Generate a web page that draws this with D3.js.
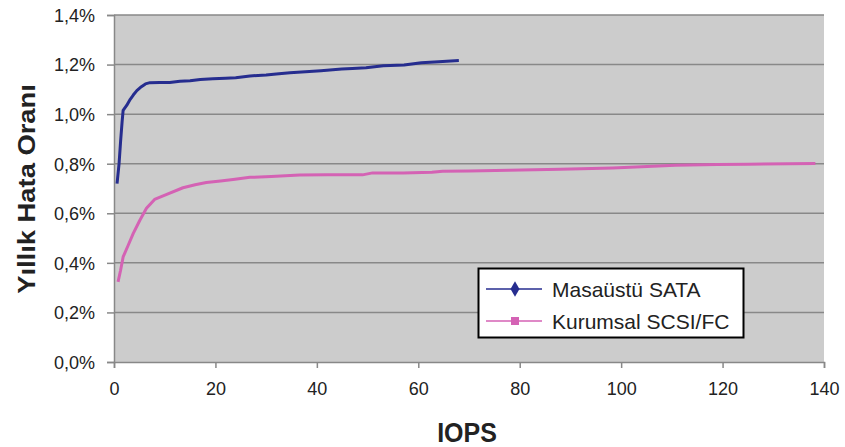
<!DOCTYPE html>
<html>
<head>
<meta charset="utf-8">
<script src="https://cdn.jsdelivr.net/npm/d3@7"></script>
<style>
  body { margin: 0; background: #fff; }
  text { font-family: "Liberation Sans", Arial, sans-serif; fill: #222; }
</style>
</head>
<body>
<div id="chart"></div>
<script>
// IOPS vs annual failure rate (%)
const sataIops = [0.6, 1.0, 1.3, 1.6, 1.8, 2.5, 3.2, 3.8, 4.5, 5.4, 6.2, 7.1, 9, 11, 13, 15, 17, 19.5, 22, 24, 26.8, 30, 32, 34.7, 37, 40.8, 44.9, 47, 49.7, 53.1, 57.2, 60.6, 64, 68];
const sataRate = [0.72, 0.80, 0.89, 0.97, 1.015, 1.035, 1.06, 1.077, 1.095, 1.111, 1.122, 1.127, 1.128, 1.128, 1.133, 1.135, 1.140, 1.143, 1.145, 1.147, 1.154, 1.158, 1.162, 1.167, 1.170, 1.175, 1.182, 1.184, 1.187, 1.195, 1.198, 1.207, 1.211, 1.216];
const scsiIops = [0.8, 1.3, 1.8, 2.8, 3.8, 5.1, 6.4, 8.0, 10.4, 13.6, 16, 18.2, 21, 23.5, 26.8, 31, 36.6, 42, 49, 51, 57, 62.7, 64.8, 70, 77.8, 88, 98.3, 104, 110.7, 118.9, 125, 138.3];
const scsiRate = [0.323, 0.37, 0.424, 0.471, 0.519, 0.572, 0.62, 0.656, 0.676, 0.703, 0.715, 0.724, 0.73, 0.736, 0.745, 0.748, 0.754, 0.755, 0.755, 0.763, 0.763, 0.766, 0.770, 0.771, 0.774, 0.778, 0.783, 0.788, 0.794, 0.797, 0.798, 0.801];
const seriesNames = ["Masaüstü SATA", "Kurumsal SCSI/FC"];
const xTicks = [0, 20, 40, 60, 80, 100, 120, 140];
const yTicks = [0, 0.2, 0.4, 0.6, 0.8, 1.0, 1.2, 1.4];

const width = 845, height = 447;
const plotL = 114, plotR = 824, plotT = 15, plotB = 362;
const blue = "#262d8f", pink = "#d462b4";

const svg = d3.select("#chart").append("svg")
  .attr("width", width).attr("height", height);

const x = d3.scaleLinear().domain([0, 140]).range([plotL, plotR]);
const y = d3.scaleLinear().domain([0, 1.4]).range([plotB, plotT]);

/* plot background */
svg.append("rect")
  .attr("x", plotL).attr("y", plotT)
  .attr("width", plotR - plotL).attr("height", plotB - plotT)
  .attr("fill", "#cccccc");

/* grid lines */
svg.append("g").selectAll("line")
  .data(yTicks.filter(d => d > 0))
  .enter().append("line")
  .attr("x1", plotL).attr("x2", plotR)
  .attr("y1", d => y(d)).attr("y2", d => y(d))
  .attr("stroke", "#888").attr("stroke-width", 1.5);

/* axes */
const yAxis = d3.axisLeft(y).tickValues(yTicks).tickSize(7).tickPadding(12)
  .tickFormat(d => d3.format(".1f")(d).replace(".", ",") + "%");
const gy = svg.append("g").attr("transform", `translate(${plotL},0)`).call(yAxis);
const xAxis = d3.axisBottom(x).tickValues(xTicks).tickSize(6).tickPadding(14);
const gx = svg.append("g").attr("transform", `translate(0,${plotB})`).call(xAxis);

[gx, gy].forEach(g => {
  g.select(".domain").attr("stroke", "#888").attr("stroke-width", 1.5);
  g.selectAll(".tick line").attr("stroke", "#888").attr("stroke-width", 1.5);
  g.selectAll(".tick text")
    .attr("font-family", "Liberation Sans, Arial, sans-serif")
    .attr("font-size", 18).attr("fill", "#222");
});
gy.selectAll(".tick text").attr("dy", "0.35em");
gx.selectAll(".tick text").attr("dy", "0.71em");

/* lines */
const line = d3.line().x(d => x(d[0])).y(d => y(d[1]));
const sata = sataIops.map((v, i) => [v, sataRate[i]]);
const scsi = scsiIops.map((v, i) => [v, scsiRate[i]]);

svg.append("path").datum(scsi)
  .attr("d", line).attr("fill", "none")
  .attr("stroke", pink).attr("stroke-width", 3).attr("stroke-linejoin", "round");
svg.append("path").datum(sata)
  .attr("d", line).attr("fill", "none")
  .attr("stroke", blue).attr("stroke-width", 3).attr("stroke-linejoin", "round");

/* axis titles */
svg.append("text")
  .attr("transform", "translate(35,189) rotate(-90) scale(1.14,1)")
  .attr("text-anchor", "middle")
  .attr("font-size", 24).attr("font-weight", "bold")
  .text("Yıllık Hata Oranı");
svg.append("text")
  .attr("transform", "translate(467,442) scale(1,1.12)")
  .attr("text-anchor", "middle")
  .attr("font-size", 25).attr("font-weight", "bold")
  .text("IOPS");

/* legend */
const lg = svg.append("g");
lg.append("rect")
  .attr("x", 478.5).attr("y", 268.5).attr("width", 265).attr("height", 69)
  .attr("fill", "#fff").attr("stroke", "#000").attr("stroke-width", 2);
const rows = [{ name: seriesNames[0], color: blue, y: 289, shape: d3.symbolDiamond },
              { name: seriesNames[1], color: pink, y: 321, shape: d3.symbolSquare }];
rows.forEach(r => {
  lg.append("line")
    .attr("x1", 486).attr("x2", 542).attr("y1", r.y).attr("y2", r.y)
    .attr("stroke", r.color).attr("stroke-width", 1.5);
  lg.append("path")
    .attr("d", d3.symbol().type(r.shape).size(r.shape === d3.symbolDiamond ? 70 : 64)())
    .attr("transform", `translate(515,${r.y})`)
    .attr("fill", r.color);
  lg.append("text")
    .attr("x", 552).attr("y", r.y + 7.5)
    .attr("font-size", 21)
    .text(r.name);
});
</script>
</body>
</html>
